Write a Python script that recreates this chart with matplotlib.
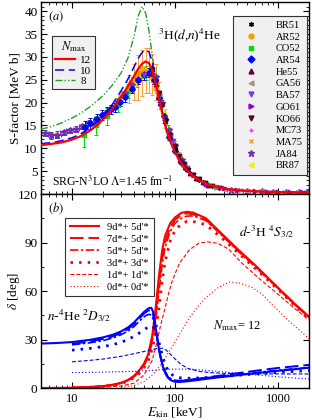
import matplotlib
matplotlib.use("Agg")
import matplotlib.pyplot as plt
from matplotlib.lines import Line2D
from matplotlib import ticker

plt.rcParams['font.family'] = ['Liberation Serif', 'DejaVu Serif']
plt.rcParams['mathtext.fontset'] = 'stix'

# ---------------- panel (a): S-factor ----------------
E_S = [5, 6, 7, 8, 10, 12, 15, 18, 21, 25, 30, 35, 40, 44, 48, 52, 56, 60, 65, 70,
       76, 83, 90, 100, 115, 130, 150, 175, 210, 260, 330, 450, 650, 1000, 1500, 2000]
S_N12 = [10.7, 10.9, 11.1, 11.3, 11.9, 12.6, 13.9, 15.3, 16.8, 18.8, 21.3, 23.6, 25.8, 27.4,
         28.5, 29.0, 28.6, 27.2, 24.2, 20.8, 17.2, 13.8, 11.5, 9.1, 6.7, 5.2, 3.9, 2.9, 2.1,
         1.5, 1.05, 0.75, 0.55, 0.42, 0.34, 0.3]
S_N10 = [11.0, 11.2, 11.4, 11.7, 12.3, 13.1, 14.5, 16.0, 17.6, 19.8, 22.6, 25.2, 27.8, 29.7,
         31.0, 31.6, 31.0, 29.0, 25.3, 21.5, 17.6, 14.0, 11.6, 9.1, 6.7, 5.2, 3.9, 2.9, 2.1,
         1.5, 1.05, 0.75, 0.55, 0.42, 0.34, 0.3]
S_N8 = [14.2, 14.6, 15.1, 15.6, 16.6, 17.6, 19.1, 20.6, 22.0, 24.0, 26.5, 29.8, 34.5, 39.0,
        41.0, 39.5, 35.5, 30.5, 25.5, 21.6, 17.7, 14.2, 11.8, 9.3, 6.9, 5.3, 4.0, 3.0, 2.15,
        1.55, 1.08, 0.77, 0.56, 0.43, 0.35, 0.31]

# experimental data sets (E [keV], S [MeV b], dS)
BR51_E = [60, 80, 100, 130, 170]
BR51_S = [27.5, 16.5, 9.8, 5.2, 3.1]

AR52_E = [30, 35, 38, 42, 46, 50, 55, 60, 66]
AR52_S = [21.5, 23.5, 24.5, 25.5, 26.5, 26.8, 26.5, 25.5, 23.0]
AR52_dS = [1.0, 1.0, 1.0, 1.0, 1.0, 1.0, 1.0, 1.0, 1.0]

CO52_E = [13, 17, 22, 28, 35, 43, 52, 62, 72, 85, 100, 120, 150, 200, 250]
CO52_S = [12.8, 15.0, 17.0, 19.5, 22.5, 25.0, 26.5, 26.0, 21.0, 14.0, 10.0, 6.5, 4.2, 2.2, 1.5]
CO52_dS = [2.5, 2.0, 1.8, 1.5, 1.5, 1.5, 1.5, 1.5, 1.2, 1.0, 0.8, 0.6, 0.4, 0.3, 0.2]

AR54_E = [13.3, 15, 17.3, 19.5, 21.8, 24, 26.3, 29.5, 33, 38.4, 44, 50, 56, 63, 70, 78, 88, 100, 115, 130]
AR54_S = [14.7, 15.5, 16.5, 17.2, 18.0, 18.5, 19.0, 20.2, 21.2, 23.0, 25.0, 26.0, 26.5, 25.0,
          21.0, 17.0, 12.5, 9.5, 7.0, 5.5]
AR54_dS = [1.2, 1.2, 1.1, 1.1, 1.0, 1.0, 1.0, 1.0, 1.0, 1.0, 1.0, 1.0, 1.0, 1.0, 0.9, 0.8,
           0.6, 0.5, 0.4, 0.3]
AR54_dE = [0.8, 0.8, 0.9, 1.0, 1.1, 1.2, 1.3, 1.4, 1.5, 1.6, 1.8, 2, 2, 2, 2, 2, 2, 2, 2, 2]

He55_E = [60, 66, 72, 80, 90, 100, 112, 125, 140, 160, 185, 210]
He55_S = [26.5, 24.0, 20.0, 16.0, 12.5, 9.8, 7.5, 6.0, 4.6, 3.5, 2.6, 2.0]

GA56_E = [300, 400, 500, 700, 900, 1200, 1500]
GA56_S = [1.2, 0.9, 0.7, 0.55, 0.45, 0.4, 0.35]

BA57_E = [50, 60, 70, 80, 95, 110, 130, 150]
BA57_S = [26.0, 26.0, 21.5, 16.5, 11.5, 8.0, 5.6, 4.2]

GO61_E = [200, 300, 400, 600, 800, 1000, 1300, 1700]
GO61_S = [2.2, 1.3, 0.95, 0.6, 0.5, 0.45, 0.4, 0.35]

KO66_E = [65, 70, 75, 82, 90, 100, 110, 122, 135, 150, 170, 195, 230, 270]
KO66_S = [24.5, 22.0, 19.5, 16.0, 13.0, 10.5, 8.3, 6.6, 5.2, 4.2, 3.2, 2.4, 1.8, 1.4]

MC73_E = [250, 350, 450]
MC73_S = [1.6, 1.1, 0.8]

MA75_E = [36, 40, 44, 48, 52, 56, 60, 65, 70, 80, 90, 100, 110, 125]
MA75_S = [23.0, 24.5, 25.5, 26.5, 27.0, 27.0, 26.2, 24.5, 21.5, 16.5, 13.0, 10.3, 8.2, 6.3]
MA75_dS = [3, 4, 5, 5, 5, 5, 4.5, 4, 3, 2, 1.5, 1.2, 1.0, 0.8]
MA75_dE = [2, 2, 2, 2, 2, 2, 3, 3, 4, 4, 5, 5, 6, 6]

JA84_E = [5.5, 6.3, 7.2, 8.3, 9.5, 11, 12.5, 14.5, 17, 20, 24, 28, 33, 38, 44, 50, 57, 65,
          75, 88, 100, 117, 350, 500, 700, 900, 1200, 1600, 1900]
JA84_S = [13.3, 12.8, 13.0, 13.5, 13.9, 14.2, 14.8, 15.5, 16.2, 17.3, 18.8, 20.2, 22.0, 23.8,
          25.2, 26.3, 26.7, 25.5, 20.0, 14.0, 10.5, 7.5, 0.9, 0.7, 0.55, 0.5, 0.45, 0.4, 0.35]
JA84_dS = [0.7, 0.7, 0.7, 0.6, 0.6, 0.6, 0.6, 0.6, 0.6, 0.6, 0.6, 0.6, 0.6, 0.6, 0.6, 0.6,
           0.6, 0.6, 0.5, 0.4, 0.3, 0.3, 0.1, 0.1, 0.1, 0.1, 0.1, 0.1, 0.1]
JA84_dE = [0.5, 0.5, 0.6, 0.6, 0.7, 0.8, 0.9, 1, 1, 1, 1, 1, 1, 1, 1, 1, 1, 1, 1, 1, 1, 1,
           30, 40, 50, 60, 80, 100, 100]

BR87_E = [40, 43, 46, 49, 52, 55, 58, 61, 64, 67, 70, 74, 78]
BR87_S = [24.0, 25.0, 25.8, 26.3, 26.6, 26.6, 26.3, 25.6, 24.5, 23.0, 21.5, 19.5, 17.5]
BR87_dS = [1.0, 1.0, 1.0, 1.0, 1.0, 1.0, 1.0, 1.0, 1.0, 1.0, 1.0, 1.0, 1.0]
BR87_dE = [1.5, 1.5, 1.5, 1.5, 1.5, 1.5, 1.5, 1.5, 1.5, 1.5, 1.5, 1.5, 1.5]

# ---------------- panel (b): phase shifts ----------------
E_r9 = [5, 8, 10, 15, 20, 25, 30, 35, 40, 45, 50, 55, 60, 65, 70, 75, 80, 90, 100, 115, 130,
        150, 200, 300, 420, 600, 1000, 1400, 2000]
d_r9 = [0, 0.1, 0.2, 0.6, 1.2, 2.0, 3.2, 5.0, 7.5, 11, 15, 21, 32, 50, 70, 85, 94, 102, 105.5,
        108.3, 109, 108.5, 105, 94, 85, 76, 62, 53, 44]
E_r = [10, 15, 20, 25, 30, 35, 40, 45, 50, 55, 60, 65, 70, 75, 80, 90, 100, 115, 130, 150, 200,
       300, 420, 600, 1000, 1400, 2000]
d_r7 = [0.2, 0.6, 1.2, 2.0, 3.1, 4.8, 7.2, 10.5, 14.5, 20, 30, 46, 65, 80, 90, 99.5, 104, 107,
        108, 107.5, 104, 93.5, 84.5, 75.5, 62, 53, 44]
d_r5 = [0.2, 0.6, 1.1, 1.9, 3.0, 4.6, 7.0, 10, 14, 19, 28, 42, 60, 76, 87, 97, 102, 105, 106.3,
        106.5, 103.5, 93, 84, 75, 61.5, 52.5, 43.5]
d_r3 = [0.2, 0.5, 1.0, 1.7, 2.7, 4.2, 6.3, 9, 12.5, 17, 24, 35, 50, 66, 78, 91, 97.5, 101.5,
        103, 103, 101, 91.5, 83, 74, 61, 52, 43]
E_r1 = [10, 20, 30, 40, 50, 60, 66, 72, 79, 87, 95, 110, 138, 170, 207, 260, 330, 450, 650,
        1000, 1400, 2000]
d_r1 = [0.1, 0.5, 1.2, 3, 8, 17, 27, 38, 48, 59, 67, 77, 85.5, 89.5, 90.4, 89.5, 86, 77, 68,
        58, 50, 42]
E_r0 = [30, 40, 50, 60, 70, 80, 95, 115, 138, 170, 200, 260, 338, 420, 550, 700, 881, 1200,
        1600, 2000]
d_r0 = [0.5, 1.5, 4, 8, 13, 18.5, 26, 35, 43.5, 51, 56, 62, 65.5, 65, 62.5, 58, 51.5, 43, 36,
        30.5]

E_b9 = [5, 7, 10, 15, 20, 25, 30, 35, 40, 45, 50, 54, 57, 59, 61, 63, 66, 69, 72, 76, 80, 85,
        90, 95, 100, 110, 130, 170, 250, 420, 700, 1000, 1500, 2000]
d_b9 = [27.5, 27.8, 28.4, 29.8, 31.3, 33, 35, 37.5, 40.5, 44, 47, 48.8, 49.6, 49.5, 47.5, 43,
        34, 26, 19.5, 13.5, 9.5, 6.5, 5, 4.3, 3.9, 3.7, 4.1, 5.0, 6.4, 8.0, 9.6, 10.6, 11.7, 12.6]
E_b = [10, 15, 20, 25, 30, 35, 40, 45, 50, 54, 57, 59, 61, 63, 66, 69, 72, 76, 80, 85, 90, 95,
       100, 110, 130, 170, 250, 420, 700, 1000, 1500, 2000]
d_b7 = [27.3, 28.8, 30.3, 32, 34, 36.5, 39.5, 43, 46, 47.6, 48.2, 47.8, 46, 42, 34, 26.5, 20,
        14, 10, 7, 5.5, 4.8, 4.4, 4.3, 4.8, 5.8, 7.3, 9.3, 11.2, 12.4, 13.5, 14.3]
d_b5 = [26.7, 28, 29.3, 31, 33, 35.3, 38, 41.3, 44, 45.3, 45.5, 45, 43, 39.5, 33, 26.5, 20.5,
        14.5, 10.5, 7.5, 6, 5.2, 4.8, 4.6, 5, 5.8, 7, 8.5, 10, 11, 12, 12.6]
E_b3 = [10, 15, 20, 25, 30, 35, 40, 45, 50, 55, 58, 61, 64, 67, 70, 74, 78, 83, 90, 100, 115,
        140, 200, 300, 500, 800, 1200, 2000]
d_b3 = [23.4, 24.5, 25.6, 26.8, 28.3, 30, 32, 34, 36, 37.8, 38.4, 38, 36, 32.5, 28, 22, 17,
        12.5, 9, 7, 6.2, 6, 6.4, 7.2, 8.3, 9.3, 10, 10.8]
E_b1 = [10, 15, 20, 30, 40, 50, 60, 68, 75, 82, 90, 100, 115, 135, 170, 220, 300, 500, 1000, 2000]
d_b1 = [16.2, 17.1, 17.9, 19.6, 21.2, 22.6, 23.8, 24.5, 24.6, 23.5, 21, 18, 14.5, 12, 10.3, 9.5,
        9.1, 8.8, 8.7, 8.7]
E_b0 = [10, 20, 40, 60, 80, 100, 130, 170, 250, 400, 700, 1000, 1500, 2000]
d_b0 = [9.5, 9.8, 10.3, 10.9, 11.4, 11.7, 11.7, 11.3, 10.4, 9.2, 7.8, 6.9, 6.1, 5.6]

labels_b = ["9d*+ 5d'*", "7d*+ 5d'*", "5d*+ 5d'*", "3d*+ 3d'*", "1d*+ 1d'*", "0d*+ 0d'*"]

# ---------------- figure ----------------
fig = plt.figure(figsize=(3.12, 4.2), dpi=100)
ax1 = fig.add_axes([0.1314, 0.5381, 0.859, 0.4571])
ax2 = fig.add_axes([0.1314, 0.07619, 0.859, 0.4619])

for ax in (ax1, ax2):
    ax.set_xscale('log')
    ax.set_xlim(5, 2000)
    ax.set_xticks([10, 100, 1000])
    ax.xaxis.set_minor_locator(ticker.LogLocator(base=10, subs=range(2, 10)))
    ax.xaxis.set_minor_formatter(ticker.NullFormatter())
    ax.tick_params(which='both', direction='in', top=True, right=True)
    ax.tick_params(axis='x', labelsize=9)
    ax.tick_params(axis='y', labelsize=9.5, pad=2.5)
    ax.tick_params(which='major', length=4.5, width=0.8)
    ax.tick_params(which='minor', length=2.5, width=0.6)
    for s in ax.spines.values():
        s.set_linewidth(1.0)

ax1.set_xticklabels([])
ax2.set_xticklabels(['10', '100', '1000'])

# panel (a)
ax1.set_ylim(0, 42)
ax1.set_yticks([5, 10, 15, 20, 25, 30, 35, 40])
ax1.yaxis.set_minor_locator(ticker.MultipleLocator(1))
ax1.set_ylabel('S-factor [MeV b]', fontsize=9.5)
ax1.yaxis.set_label_coords(-0.072, 0.5)


def pts(E, S, marker, color, dS=None, dE=None, ms=3.2):
    ax1.errorbar(E, S, yerr=dS, xerr=dE, fmt='', marker=marker, color=color, ms=ms,
                 mfc=color, mec=color, elinewidth=0.7, capsize=1.5, capthick=0.7,
                 linestyle='none', zorder=2)


ds_styles = [
    ('BR51', (6, 2, 0), 'black'),
    ('AR52', 'o', '#ff9900'),
    ('CO52', 's', '#00e000'),
    ('AR54', 'D', '#0000ff'),
    ('He55', '^', '#66003a'),
    ('GA56', '<', '#c08888'),
    ('BA57', 'v', '#7040e0'),
    ('GO61', '>', '#9000d0'),
    ('KO66', 'v', '#550030'),
    ('MC73', '+', '#ff30ff'),
    ('MA75', 'x', '#ff9933'),
    ('JA84', '*', '#7030b0'),
    ('BR87', '<', '#f0f000'),
]
st = {n: (m, c) for n, m, c in ds_styles}

pts(MA75_E, MA75_S, st['MA75'][0], st['MA75'][1], MA75_dS, MA75_dE)
pts(CO52_E, CO52_S, st['CO52'][0], st['CO52'][1], CO52_dS)
pts(BR87_E, BR87_S, st['BR87'][0], st['BR87'][1], BR87_dS, BR87_dE)
pts(AR52_E, AR52_S, st['AR52'][0], st['AR52'][1], AR52_dS)
pts(JA84_E, JA84_S, st['JA84'][0], st['JA84'][1], JA84_dS, JA84_dE, ms=4.5)
pts(AR54_E, AR54_S, st['AR54'][0], st['AR54'][1], AR54_dS, AR54_dE, ms=3)
pts(BA57_E, BA57_S, st['BA57'][0], st['BA57'][1])
pts(He55_E, He55_S, st['He55'][0], st['He55'][1])
pts(KO66_E, KO66_S, st['KO66'][0], st['KO66'][1])
pts(GA56_E, GA56_S, st['GA56'][0], st['GA56'][1])
pts(GO61_E, GO61_S, st['GO61'][0], st['GO61'][1])
pts(MC73_E, MC73_S, st['MC73'][0], st['MC73'][1])
pts(BR51_E, BR51_S, st['BR51'][0], st['BR51'][1])

l12, = ax1.plot(E_S, S_N12, color='#ff0000', lw=1.6, zorder=5)
l10, = ax1.plot(E_S, S_N10, color='#0000ff', lw=1.1, dashes=(6, 3), zorder=4)
l8, = ax1.plot(E_S, S_N8, color='#20a020', lw=1.0, dashes=(5, 1.5, 1, 1.5, 1, 1.5), zorder=3)

leg1 = ax1.legend([l12, l10, l8], ['12', '10', '8'], title=r'$N_{\rm max}$',
                  loc='upper left', bbox_to_anchor=(0.041, 0.823), borderaxespad=0,
                  fontsize=8, title_fontsize=9, handlelength=1.8, handletextpad=0.45,
                  labelspacing=0.05, borderpad=0.3, fancybox=False, framealpha=1,
                  facecolor='#f0f0f0', edgecolor='#333333')
leg1.get_frame().set_linewidth(0.8)
leg1._legend_box.sep = 1
ax1.add_artist(leg1)

hd = [Line2D([], [], marker=m, color=c, mfc=c, mec=c, linestyle='none',
             markersize=4.5 if n == 'JA84' else 3.5) for n, m, c in ds_styles]
leg2 = ax1.legend(hd, [n for n, m, c in ds_styles], loc='upper right',
                  bbox_to_anchor=(0.993, 0.927), borderaxespad=0, fontsize=7.5,
                  handlelength=2.6, handletextpad=1.0, labelspacing=0.23, borderpad=0.45,
                  fancybox=False, framealpha=1, facecolor='#f0f0f0', edgecolor='#333333')
leg2.get_frame().set_linewidth(0.8)

ax1.text(0.026, 0.922, r'$(a)$', transform=ax1.transAxes, fontsize=9, ha='left', va='center')
ax1.text(0.437, 0.828, r'$^3$H($d$,$n$)$^4$He', transform=ax1.transAxes, fontsize=9.5,
         ha='left', va='center')
ax1.text(0.041, 0.0625, r'SRG-N$^3$LO $\Lambda$=1.45 fm$^{-1}$', transform=ax1.transAxes,
         fontsize=8.5, ha='left', va='center')

# panel (b)
ax2.set_ylim(0, 120)
ax2.set_yticks([0, 30, 60, 90, 120])
ax2.yaxis.set_minor_locator(ticker.MultipleLocator(15))
ax2.set_ylabel(r'$\delta$ [deg]', fontsize=9.5)
ax2.yaxis.set_label_coords(-0.072, 0.5)
ax2.set_xlabel(r'$E_{\rm kin}$ [keV]', fontsize=9.5, labelpad=0.5)

styles = [dict(lw=1.5, ls='-'),
          dict(lw=1.4, dashes=(7, 2.5)),
          dict(lw=1.2, dashes=(5, 1.5, 1.5, 1.5)),
          dict(lw=2.0, dashes=(0.9, 2.2)),
          dict(lw=0.8, dashes=(3.5, 1.8)),
          dict(lw=0.8, dashes=(1, 2))]

red_sets = [(E_r9, d_r9), (E_r, d_r7), (E_r, d_r5), (E_r, d_r3), (E_r1, d_r1), (E_r0, d_r0)]
blue_sets = [(E_b9, d_b9), (E_b, d_b7), (E_b, d_b5), (E_b3, d_b3), (E_b1, d_b1), (E_b0, d_b0)]

red_lines = []
for (E, d), s, lab in zip(red_sets, styles, labels_b):
    ln, = ax2.plot(E, d, color='#ff0000', label=lab, **s)
    red_lines.append(ln)
for (E, d), s in zip(blue_sets, styles):
    ax2.plot(E, d, color='#0000ff', **s)

leg3 = ax2.legend(red_lines, labels_b, loc='upper left', bbox_to_anchor=(0.0896, 0.876),
                  borderaxespad=0, fontsize=7.5, handlelength=2.8, handletextpad=0.8,
                  labelspacing=0.25, borderpad=0.45, fancybox=False, framealpha=1,
                  facecolor='white', edgecolor='#333333')
leg3.get_frame().set_linewidth(0.8)

ax2.text(0.026, 0.928, r'$(b)$', transform=ax2.transAxes, fontsize=9, ha='left', va='center')
ax2.text(0.022, 0.376, r'$n$-$^4$He $^2D_{3/2}$', transform=ax2.transAxes, fontsize=9.5,
         ha='left', va='center')
ax2.text(0.739, 0.804, r'$d$-$^3$H $^4S_{3/2}$', transform=ax2.transAxes, fontsize=9.5,
         ha='left', va='center')
ax2.text(0.642, 0.32, r'$N_{\rm max}$= 12', transform=ax2.transAxes, fontsize=9,
         ha='left', va='center')

fig.savefig('out.png', dpi=100)
